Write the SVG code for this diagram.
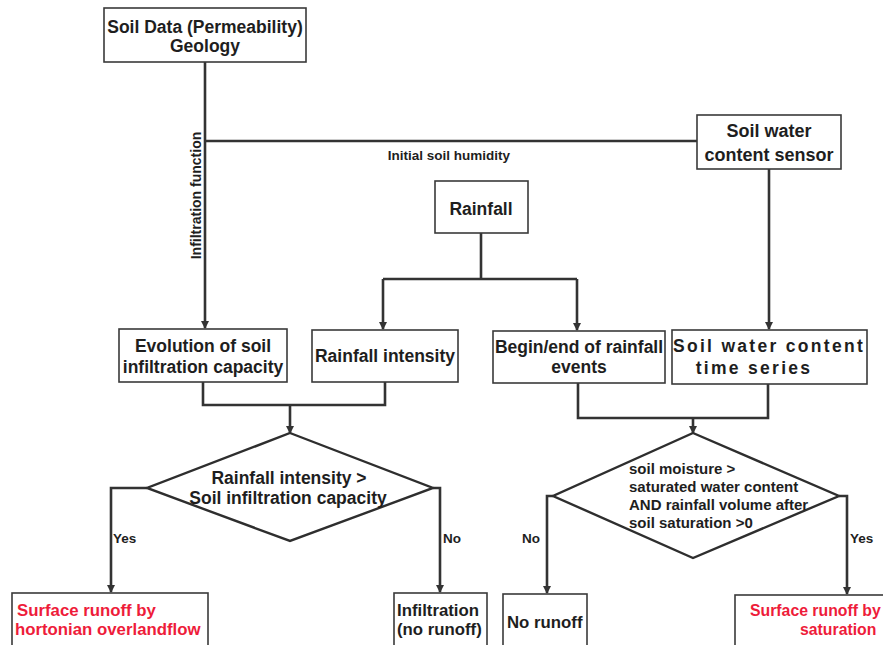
<svg xmlns="http://www.w3.org/2000/svg" width="883" height="645" viewBox="0 0 883 645">
<defs>
<style>
.box{fill:#fff;stroke:#3a3a3a;stroke-width:1.6}
.ln{fill:none;stroke:#333;stroke-width:2.6}
text{font-family:"Liberation Sans",Arial,sans-serif;font-weight:bold;fill:#1e1e1e}
.t{font-size:17.5px;text-anchor:middle}
.s{font-size:15px}
.lbl{font-size:13.5px}
.red{fill:#ee1c3a;font-size:16.8px}
</style>
<marker id="ah" markerWidth="8" markerHeight="8" refX="7" refY="4" orient="auto" markerUnits="userSpaceOnUse">
<path d="M0,0 L8,4 L0,8 Z" fill="#333"/>
</marker>
</defs>
<rect width="883" height="645" fill="#fff"/>

<g id="connectors">
<path class="ln" d="M205,62 V328" marker-end="url(#ah)"/>
<path class="ln" d="M205,141 H697"/>
<path class="ln" d="M769,169 V329" marker-end="url(#ah)"/>
<path class="ln" d="M481,233 V279"/>
<path class="ln" d="M383,279 H577"/>
<path class="ln" d="M383,279 V329" marker-end="url(#ah)"/>
<path class="ln" d="M577,279 V330" marker-end="url(#ah)"/>
<path class="ln" d="M203,382 V405 H385 V382"/>
<path class="ln" d="M290,405 V433" marker-end="url(#ah)"/>
<path class="ln" d="M578,383 V418 H768 V384"/>
<path class="ln" d="M693,418 V433" marker-end="url(#ah)"/>
<path class="ln" d="M147,488 H111 V592" marker-end="url(#ah)"/>
<path class="ln" d="M433,488 H440 V592" marker-end="url(#ah)"/>
<path class="ln" d="M553,496 H547 V593" marker-end="url(#ah)"/>
<path class="ln" d="M839,496 H847 V594" marker-end="url(#ah)"/>
<text class="lbl" x="449" y="160" text-anchor="middle" style="font-size:13.5px">Initial soil humidity</text>
<text class="lbl" transform="translate(201,195.5) rotate(-90)" text-anchor="middle" style="font-size:14px">Infiltration function</text>
<text class="lbl" x="113" y="543">Yes</text>
<text class="lbl" x="443" y="543">No</text>
<text class="lbl" x="522" y="543">No</text>
<text class="lbl" x="850" y="543">Yes</text>
</g>

<g id="soil-data">
<rect class="box" x="104" y="8" width="202" height="54"/>
<text class="t" x="205" y="33">Soil Data (Permeability)</text>
<text class="t" x="205" y="52">Geology</text>
</g>

<g id="sensor">
<rect class="box" x="697" y="115" width="144" height="54"/>
<text class="t" x="769" y="137" style="font-size:18px">Soil water</text>
<text class="t" x="769" y="161" style="font-size:18px">content sensor</text>
</g>

<g id="rainfall">
<rect class="box" x="435" y="181" width="93" height="52"/>
<text class="t" x="481" y="215">Rainfall</text>
</g>

<g id="evolution">
<rect class="box" x="119" y="329" width="168" height="53"/>
<text class="t" x="203" y="352">Evolution of soil</text>
<text class="t" x="203" y="373">infiltration capacity</text>
</g>

<g id="rainfall-intensity">
<rect class="box" x="312" y="330" width="146" height="52"/>
<text class="t" x="385" y="362">Rainfall intensity</text>
</g>

<g id="begin-end">
<rect class="box" x="493" y="331" width="172" height="52"/>
<text class="t" x="579" y="353">Begin/end of rainfall</text>
<text class="t" x="579" y="373">events</text>
</g>

<g id="time-series">
<rect class="box" x="672" y="330" width="195" height="54"/>
<text class="t" x="769" y="352" style="letter-spacing:2.3px">Soil water content</text>
<text class="t" x="754" y="374" style="letter-spacing:2.3px">time series</text>
</g>

<g id="decision-left">
<polygon class="box" points="290,433 433,488 290,541 147,488" style="stroke-width:2.4;stroke:#2e2e2e"/>
<text class="t" x="289" y="484">Rainfall intensity &gt;</text>
<text class="t" x="288" y="504">Soil infiltration capacity</text>
</g>

<g id="decision-right">
<polygon class="box" points="693,433 839,496 693,558 553,496" style="stroke-width:2.4;stroke:#2e2e2e"/>
<text class="s" x="629" y="474">soil moisture &gt;</text>
<text class="s" x="629" y="492">saturated water content</text>
<text class="s" x="629" y="510">AND rainfall volume after</text>
<text class="s" x="629" y="528">soil saturation &gt;0</text>
</g>

<g id="hortonian">
<rect class="box" x="12" y="593" width="196" height="70"/>
<text class="red" x="17" y="616">Surface runoff by</text>
<text class="red" x="15" y="635">hortonian overlandflow</text>
</g>

<g id="infiltration">
<rect class="box" x="394" y="593" width="93" height="70"/>
<text x="397" y="616" style="font-size:16.8px">Infiltration</text>
<text x="397" y="635" style="font-size:16.8px">(no runoff)</text>
</g>

<g id="no-runoff">
<rect class="box" x="503" y="594" width="84" height="70"/>
<text x="507" y="628" style="font-size:16.8px">No runoff</text>
</g>

<g id="saturation">
<rect class="box" x="735" y="595" width="200" height="70"/>
<text class="red" x="750" y="616" style="font-size:15.8px">Surface runoff by</text>
<text class="red" x="800" y="635" style="font-size:15.8px">saturation</text>
</g>
</svg>
